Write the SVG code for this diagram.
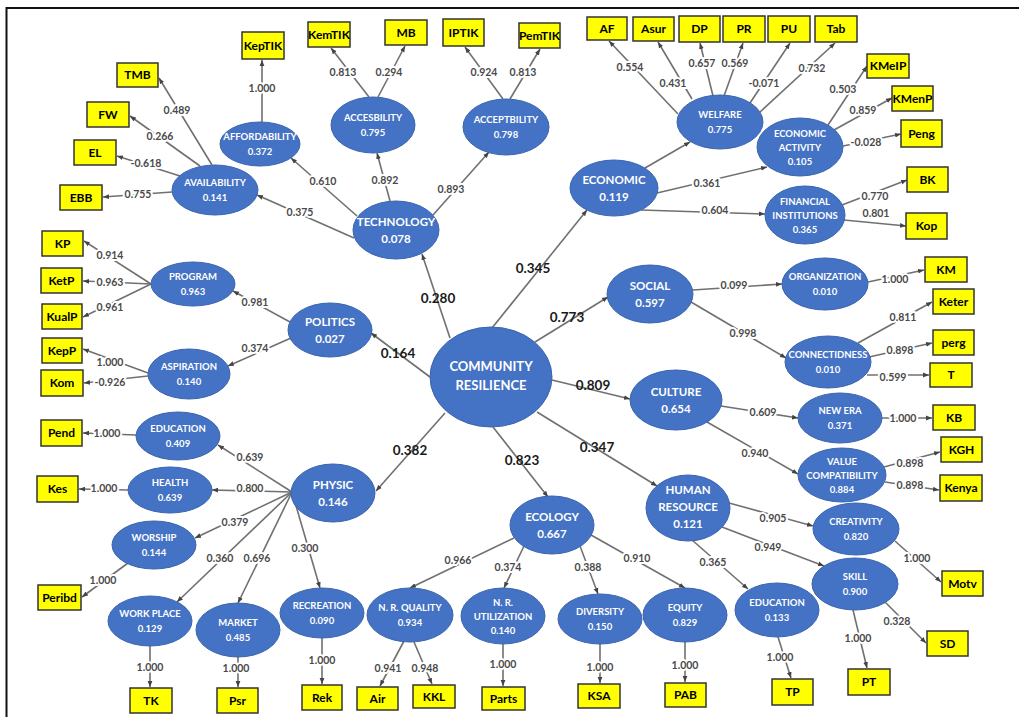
<svg xmlns="http://www.w3.org/2000/svg" width="1019" height="717" viewBox="0 0 1019 717">
<style>
text{font-family:Lato,"Liberation Sans","DejaVu Sans",sans-serif;font-weight:700;text-anchor:middle}
.e{fill:#4472c4;stroke:#3a64ad;stroke-width:1}
.nt{fill:#fff}
.s{font-size:9.5px}
.m{font-size:11.5px}
.x{font-size:13px}
.b{fill:#ffff00;stroke:#333;stroke-width:1.5}
.bt{font-size:12px;fill:#000}
.c line{stroke:#707070;stroke-width:1.6;marker-end:url(#ah)}
.l{font-size:10.5px;fill:#4a4a4a;stroke:#fff;stroke-width:4;paint-order:stroke;stroke-linejoin:round}
.L{font-size:13.5px;fill:#1a1a1a}
</style>
<defs>
<marker id="ah" viewBox="0 0 10 10" refX="10" refY="5" markerWidth="6" markerHeight="6" markerUnits="userSpaceOnUse" orient="auto"><path d="M0,1 L10,5 L0,9z" fill="#444"/></marker>
</defs>
<rect width="1019" height="717" fill="#fff"/>
<path d="M6.5,717 V8 H1019" fill="none" stroke="#111" stroke-width="2"/>
<g id="connectors" class="c">
<line x1="450" y1="338" x2="422" y2="254"/>
<line x1="492" y1="328" x2="587" y2="210"/>
<line x1="535" y1="342" x2="608" y2="297"/>
<line x1="552" y1="380" x2="630" y2="399"/>
<line x1="537" y1="412" x2="657" y2="486"/>
<line x1="493" y1="427" x2="548" y2="497"/>
<line x1="445" y1="413" x2="376" y2="491"/>
<line x1="430" y1="377" x2="371" y2="333"/>
<line x1="357" y1="216" x2="291" y2="158"/>
<line x1="354" y1="238" x2="257" y2="195"/>
<line x1="390" y1="201" x2="377" y2="153"/>
<line x1="433" y1="215" x2="489" y2="152"/>
<line x1="262" y1="122" x2="262" y2="60"/>
<line x1="212" y1="165" x2="159" y2="78"/>
<line x1="200" y1="166" x2="130" y2="116"/>
<line x1="180" y1="176" x2="117" y2="156"/>
<line x1="172" y1="192" x2="103" y2="197"/>
<line x1="369" y1="97" x2="331" y2="48"/>
<line x1="378" y1="97" x2="405" y2="46"/>
<line x1="503" y1="99" x2="465" y2="47"/>
<line x1="510" y1="99" x2="540" y2="49"/>
<line x1="645" y1="168" x2="690" y2="142"/>
<line x1="657" y1="193" x2="767" y2="167"/>
<line x1="641" y1="210" x2="765" y2="214"/>
<line x1="678" y1="114" x2="609" y2="41"/>
<line x1="692" y1="99" x2="658" y2="42"/>
<line x1="713" y1="96" x2="700" y2="43"/>
<line x1="724" y1="96" x2="743" y2="43"/>
<line x1="750" y1="103" x2="790" y2="43"/>
<line x1="760" y1="112" x2="835" y2="43"/>
<line x1="828" y1="125" x2="867" y2="66"/>
<line x1="834" y1="130" x2="892" y2="98"/>
<line x1="843" y1="146" x2="901" y2="134"/>
<line x1="842" y1="205" x2="907" y2="180"/>
<line x1="844" y1="220" x2="906" y2="226"/>
<line x1="693" y1="290" x2="782" y2="284"/>
<line x1="691" y1="302" x2="786" y2="358"/>
<line x1="868" y1="282" x2="924" y2="270"/>
<line x1="858" y1="343" x2="932" y2="302"/>
<line x1="869" y1="357" x2="932" y2="343"/>
<line x1="867" y1="375" x2="929" y2="375"/>
<line x1="721" y1="406" x2="798" y2="418"/>
<line x1="707" y1="422" x2="798" y2="474"/>
<line x1="882" y1="418" x2="932" y2="418"/>
<line x1="884" y1="467" x2="940" y2="452"/>
<line x1="885" y1="482" x2="939" y2="490"/>
<line x1="729" y1="503" x2="813" y2="526"/>
<line x1="722" y1="527" x2="824" y2="566"/>
<line x1="692" y1="540" x2="748" y2="589"/>
<line x1="895" y1="541" x2="941" y2="582"/>
<line x1="853" y1="610" x2="867" y2="668"/>
<line x1="885" y1="602" x2="926" y2="643"/>
<line x1="778" y1="637" x2="791" y2="678"/>
<line x1="685" y1="642" x2="685" y2="682"/>
<line x1="600" y1="644" x2="600" y2="683"/>
<line x1="503" y1="644" x2="503" y2="686"/>
<line x1="404" y1="641" x2="380" y2="686"/>
<line x1="414" y1="642" x2="432" y2="684"/>
<line x1="514" y1="538" x2="410" y2="588"/>
<line x1="524" y1="546" x2="504" y2="588"/>
<line x1="580" y1="546" x2="598" y2="594"/>
<line x1="591" y1="535" x2="685" y2="588"/>
<line x1="292" y1="492" x2="218" y2="445"/>
<line x1="292" y1="492" x2="212" y2="490"/>
<line x1="292" y1="492" x2="195" y2="538"/>
<line x1="292" y1="492" x2="177" y2="602"/>
<line x1="292" y1="492" x2="238" y2="603"/>
<line x1="292" y1="492" x2="320" y2="588"/>
<line x1="136" y1="435" x2="83" y2="433"/>
<line x1="128" y1="490" x2="79" y2="489"/>
<line x1="128" y1="563" x2="82" y2="597"/>
<line x1="150" y1="646" x2="150" y2="687"/>
<line x1="238" y1="657" x2="238" y2="687"/>
<line x1="322" y1="638" x2="322" y2="684"/>
<line x1="290" y1="322" x2="233" y2="291"/>
<line x1="291" y1="338" x2="228" y2="366"/>
<line x1="151" y1="284" x2="84" y2="241"/>
<line x1="151" y1="284" x2="83" y2="281"/>
<line x1="151" y1="284" x2="83" y2="317"/>
<line x1="148" y1="373" x2="83" y2="349"/>
<line x1="148" y1="376" x2="84" y2="383"/>
<text class="L" x="438" y="303">0.280</text>
<text class="L" x="533" y="273">0.345</text>
<text class="L" x="567" y="322">0.773</text>
<text class="L" x="593" y="390">0.809</text>
<text class="L" x="597" y="452">0.347</text>
<text class="L" x="522" y="465">0.823</text>
<text class="L" x="410" y="455">0.382</text>
<text class="L" x="398" y="358">0.164</text>
<text class="l" x="323" y="184.5">0.610</text>
<text class="l" x="300" y="215.5">0.375</text>
<text class="l" x="385" y="183.5">0.892</text>
<text class="l" x="451" y="192.5">0.893</text>
<text class="l" x="262" y="91.5">1.000</text>
<text class="l" x="177" y="113.5">0.489</text>
<text class="l" x="160" y="139.5">0.266</text>
<text class="l" x="146" y="166.5">-0.618</text>
<text class="l" x="138" y="197.5">0.755</text>
<text class="l" x="343" y="75.5">0.813</text>
<text class="l" x="389" y="75.5">0.294</text>
<text class="l" x="484" y="75.5">0.924</text>
<text class="l" x="523" y="75.5">0.813</text>
<text class="l" x="630" y="70.5">0.554</text>
<text class="l" x="673" y="86.5">0.431</text>
<text class="l" x="702" y="66.5">0.657</text>
<text class="l" x="735" y="66.5">0.569</text>
<text class="l" x="764" y="86.5">-0.071</text>
<text class="l" x="812" y="71.5">0.732</text>
<text class="l" x="707" y="186.5">0.361</text>
<text class="l" x="715" y="213.5">0.604</text>
<text class="l" x="843" y="92.5">0.503</text>
<text class="l" x="863" y="113.5">0.859</text>
<text class="l" x="866" y="145.5">-0.028</text>
<text class="l" x="875" y="199.5">0.770</text>
<text class="l" x="876" y="216.5">0.801</text>
<text class="l" x="734" y="288.5">0.099</text>
<text class="l" x="743" y="336.5">0.998</text>
<text class="l" x="895" y="282.5">1.000</text>
<text class="l" x="903" y="320.5">0.811</text>
<text class="l" x="900" y="353.5">0.898</text>
<text class="l" x="893" y="380.5">0.599</text>
<text class="l" x="763" y="415.5">0.609</text>
<text class="l" x="755" y="456.5">0.940</text>
<text class="l" x="903" y="421.5">1.000</text>
<text class="l" x="910" y="466.5">0.898</text>
<text class="l" x="910" y="488.5">0.898</text>
<text class="l" x="773" y="521.5">0.905</text>
<text class="l" x="768" y="550.5">0.949</text>
<text class="l" x="713" y="565.5">0.365</text>
<text class="l" x="917" y="561.5">1.000</text>
<text class="l" x="858" y="641.5">1.000</text>
<text class="l" x="897" y="624.5">0.328</text>
<text class="l" x="780" y="660.5">1.000</text>
<text class="l" x="685" y="668.5">1.000</text>
<text class="l" x="600" y="670.5">1.000</text>
<text class="l" x="503" y="667.5">1.000</text>
<text class="l" x="388" y="671.5">0.941</text>
<text class="l" x="425" y="671.5">0.948</text>
<text class="l" x="458" y="563.5">0.966</text>
<text class="l" x="508" y="570.5">0.374</text>
<text class="l" x="588" y="570.5">0.388</text>
<text class="l" x="637" y="561.5">0.910</text>
<text class="l" x="250" y="460.5">0.639</text>
<text class="l" x="250" y="491.5">0.800</text>
<text class="l" x="235" y="525.5">0.379</text>
<text class="l" x="220" y="561.5">0.360</text>
<text class="l" x="257" y="561.5">0.696</text>
<text class="l" x="305" y="551.5">0.300</text>
<text class="l" x="107" y="436.5">1.000</text>
<text class="l" x="104" y="491.5">1.000</text>
<text class="l" x="103" y="583.5">1.000</text>
<text class="l" x="150" y="670.5">1.000</text>
<text class="l" x="236" y="671.5">1.000</text>
<text class="l" x="322" y="663.5">1.000</text>
<text class="l" x="255" y="305.5">0.981</text>
<text class="l" x="255" y="351.5">0.374</text>
<text class="l" x="110" y="258.5">0.914</text>
<text class="l" x="110" y="285.5">0.963</text>
<text class="l" x="110" y="310.5">0.961</text>
<text class="l" x="110" y="365.5">1.000</text>
<text class="l" x="110" y="385.5">-0.926</text>
</g>
<g id="n-cr"><ellipse class="e" cx="491" cy="377" rx="61" ry="50"/><text class="nt x" x="491" y="370.5">COMMUNITY</text><text class="nt x" x="491" y="389.5">RESILIENCE</text></g>
<g id="n-technology"><ellipse class="e" cx="396" cy="230" rx="43" ry="29"/><text class="nt m" x="396" y="226">TECHNOLOGY</text><text class="nt m" x="396" y="243">0.078</text></g>
<g id="n-politics"><ellipse class="e" cx="330" cy="330" rx="42" ry="27"/><text class="nt m" x="330" y="326">POLITICS</text><text class="nt m" x="330" y="343">0.027</text></g>
<g id="n-physic"><ellipse class="e" cx="333" cy="493" rx="42" ry="29"/><text class="nt m" x="333" y="489">PHYSIC</text><text class="nt m" x="333" y="506">0.146</text></g>
<g id="n-ecology"><ellipse class="e" cx="552" cy="525" rx="42" ry="29"/><text class="nt m" x="552" y="521">ECOLOGY</text><text class="nt m" x="552" y="538">0.667</text></g>
<g id="n-hr"><ellipse class="e" cx="688" cy="508" rx="42" ry="33"/><text class="nt m" x="688" y="494">HUMAN</text><text class="nt m" x="688" y="511">RESOURCE</text><text class="nt m" x="688" y="528">0.121</text></g>
<g id="n-culture"><ellipse class="e" cx="676" cy="400" rx="46" ry="30"/><text class="nt m" x="676" y="396">CULTURE</text><text class="nt m" x="676" y="413">0.654</text></g>
<g id="n-social"><ellipse class="e" cx="650" cy="294" rx="43" ry="29"/><text class="nt m" x="650" y="290">SOCIAL</text><text class="nt m" x="650" y="307">0.597</text></g>
<g id="n-economic"><ellipse class="e" cx="614" cy="188" rx="44" ry="28"/><text class="nt m" x="614" y="184">ECONOMIC</text><text class="nt m" x="614" y="201">0.119</text></g>
<g id="n-affordability"><ellipse class="e" cx="260" cy="144" rx="40" ry="22"/><text class="nt s" x="260" y="140">AFFORDABILITY</text><text class="nt s" x="260" y="155">0.372</text></g>
<g id="n-availability"><ellipse class="e" cx="215" cy="190" rx="43" ry="25"/><text class="nt s" x="215" y="186">AVAILABILITY</text><text class="nt s" x="215" y="201">0.141</text></g>
<g id="n-accesbility"><ellipse class="e" cx="373" cy="125" rx="42" ry="28"/><text class="nt s" x="373" y="121">ACCESBILITY</text><text class="nt s" x="373" y="136">0.795</text></g>
<g id="n-acceptbility"><ellipse class="e" cx="506" cy="127" rx="43" ry="28"/><text class="nt s" x="506" y="123">ACCEPTBILITY</text><text class="nt s" x="506" y="138">0.798</text></g>
<g id="n-welfare"><ellipse class="e" cx="720" cy="122" rx="43" ry="27"/><text class="nt s" x="720" y="118">WELFARE</text><text class="nt s" x="720" y="133">0.775</text></g>
<g id="n-ecoact"><ellipse class="e" cx="800" cy="147" rx="43" ry="29"/><text class="nt s" x="800" y="136.5">ECONOMIC</text><text class="nt s" x="800" y="150.5">ACTIVITY</text><text class="nt s" x="800" y="164.5">0.105</text></g>
<g id="n-fininst"><ellipse class="e" cx="805" cy="215" rx="40" ry="29"/><text class="nt s" x="805" y="204.5">FINANCIAL</text><text class="nt s" x="805" y="218.5">INSTITUTIONS</text><text class="nt s" x="805" y="232.5">0.365</text></g>
<g id="n-program"><ellipse class="e" cx="193" cy="284" rx="42" ry="22"/><text class="nt s" x="193" y="280">PROGRAM</text><text class="nt s" x="193" y="295">0.963</text></g>
<g id="n-aspiration"><ellipse class="e" cx="189" cy="374" rx="41" ry="25"/><text class="nt s" x="189" y="370">ASPIRATION</text><text class="nt s" x="189" y="385">0.140</text></g>
<g id="n-education1"><ellipse class="e" cx="178" cy="436" rx="42" ry="24"/><text class="nt s" x="178" y="432">EDUCATION</text><text class="nt s" x="178" y="447">0.409</text></g>
<g id="n-health"><ellipse class="e" cx="170" cy="490" rx="42" ry="23"/><text class="nt s" x="170" y="486">HEALTH</text><text class="nt s" x="170" y="501">0.639</text></g>
<g id="n-worship"><ellipse class="e" cx="154" cy="545" rx="42" ry="24"/><text class="nt s" x="154" y="541">WORSHIP</text><text class="nt s" x="154" y="556">0.144</text></g>
<g id="n-workplace"><ellipse class="e" cx="150" cy="621" rx="42" ry="25"/><text class="nt s" x="150" y="617">WORK PLACE</text><text class="nt s" x="150" y="632">0.129</text></g>
<g id="n-market"><ellipse class="e" cx="238" cy="630" rx="42" ry="27"/><text class="nt s" x="238" y="626">MARKET</text><text class="nt s" x="238" y="641">0.485</text></g>
<g id="n-recreation"><ellipse class="e" cx="322" cy="613" rx="42" ry="25"/><text class="nt s" x="322" y="609">RECREATION</text><text class="nt s" x="322" y="624">0.090</text></g>
<g id="n-nrquality"><ellipse class="e" cx="410" cy="615" rx="43" ry="27"/><text class="nt s" x="410" y="611">N. R. QUALITY</text><text class="nt s" x="410" y="626">0.934</text></g>
<g id="n-nrutil"><ellipse class="e" cx="503" cy="616" rx="42" ry="28"/><text class="nt s" x="503" y="605.5">N. R.</text><text class="nt s" x="503" y="619.5">UTILIZATION</text><text class="nt s" x="503" y="633.5">0.140</text></g>
<g id="n-diversity"><ellipse class="e" cx="600" cy="619" rx="42" ry="25"/><text class="nt s" x="600" y="615">DIVERSITY</text><text class="nt s" x="600" y="630">0.150</text></g>
<g id="n-equity"><ellipse class="e" cx="685" cy="615" rx="42" ry="27"/><text class="nt s" x="685" y="611">EQUITY</text><text class="nt s" x="685" y="626">0.829</text></g>
<g id="n-education2"><ellipse class="e" cx="777" cy="610" rx="42" ry="27"/><text class="nt s" x="777" y="606">EDUCATION</text><text class="nt s" x="777" y="621">0.133</text></g>
<g id="n-skill"><ellipse class="e" cx="855" cy="584" rx="43" ry="26"/><text class="nt s" x="855" y="580">SKILL</text><text class="nt s" x="855" y="595">0.900</text></g>
<g id="n-creativity"><ellipse class="e" cx="856" cy="529" rx="43" ry="26"/><text class="nt s" x="856" y="525">CREATIVITY</text><text class="nt s" x="856" y="540">0.820</text></g>
<g id="n-valuecomp"><ellipse class="e" cx="842" cy="475" rx="44" ry="27"/><text class="nt s" x="842" y="464.5">VALUE</text><text class="nt s" x="842" y="478.5">COMPATIBILITY</text><text class="nt s" x="842" y="492.5">0.884</text></g>
<g id="n-newera"><ellipse class="e" cx="840" cy="418" rx="42" ry="25"/><text class="nt s" x="840" y="414">NEW ERA</text><text class="nt s" x="840" y="429">0.371</text></g>
<g id="n-connectidness"><ellipse class="e" cx="828" cy="362" rx="43" ry="26"/><text class="nt s" x="828" y="358">CONNECTIDNESS</text><text class="nt s" x="828" y="373">0.010</text></g>
<g id="n-organization"><ellipse class="e" cx="825" cy="284" rx="43" ry="26"/><text class="nt s" x="825" y="280">ORGANIZATION</text><text class="nt s" x="825" y="295">0.010</text></g>
<g id="b-keptik"><rect class="b" x="242" y="32" width="42" height="27"/><text class="bt" x="263" y="49.5">KepTIK</text></g>
<g id="b-kemtik"><rect class="b" x="308" y="22" width="42" height="25"/><text class="bt" x="329" y="38.5">KemTIK</text></g>
<g id="b-mb"><rect class="b" x="385" y="20" width="42" height="25"/><text class="bt" x="406" y="36.5">MB</text></g>
<g id="b-iptik"><rect class="b" x="443" y="19" width="41" height="27"/><text class="bt" x="463.5" y="36.5">IPTIK</text></g>
<g id="b-pemtik"><rect class="b" x="519" y="23" width="41" height="25"/><text class="bt" x="539.5" y="39.5">PemTIK</text></g>
<g id="b-af"><rect class="b" x="587" y="17" width="40" height="23"/><text class="bt" x="607" y="32.5">AF</text></g>
<g id="b-asur"><rect class="b" x="633" y="17" width="41" height="24"/><text class="bt" x="653.5" y="33">Asur</text></g>
<g id="b-dp"><rect class="b" x="679" y="16" width="41" height="26"/><text class="bt" x="699.5" y="33">DP</text></g>
<g id="b-pr"><rect class="b" x="723" y="16" width="42" height="26"/><text class="bt" x="744" y="33">PR</text></g>
<g id="b-pu"><rect class="b" x="768" y="16" width="42" height="26"/><text class="bt" x="789" y="33">PU</text></g>
<g id="b-tab"><rect class="b" x="815" y="16" width="42" height="26"/><text class="bt" x="836" y="33">Tab</text></g>
<g id="b-kmeip"><rect class="b" x="867" y="54" width="42" height="24"/><text class="bt" x="888" y="70">KMeIP</text></g>
<g id="b-kmenp"><rect class="b" x="892" y="86" width="41" height="25"/><text class="bt" x="912.5" y="102.5">KMenP</text></g>
<g id="b-peng"><rect class="b" x="901" y="120" width="41" height="27"/><text class="bt" x="921.5" y="137.5">Peng</text></g>
<g id="b-bk"><rect class="b" x="907" y="167" width="41" height="25"/><text class="bt" x="927.5" y="183.5">BK</text></g>
<g id="b-kop"><rect class="b" x="906" y="213" width="41" height="26"/><text class="bt" x="926.5" y="230">Kop</text></g>
<g id="b-tmb"><rect class="b" x="117" y="63" width="41" height="24"/><text class="bt" x="137.5" y="79">TMB</text></g>
<g id="b-fw"><rect class="b" x="87" y="102" width="42" height="25"/><text class="bt" x="108" y="118.5">FW</text></g>
<g id="b-el"><rect class="b" x="74" y="140" width="42" height="25"/><text class="bt" x="95" y="156.5">EL</text></g>
<g id="b-ebb"><rect class="b" x="60" y="185" width="42" height="25"/><text class="bt" x="81" y="201.5">EBB</text></g>
<g id="b-kp"><rect class="b" x="42" y="231" width="41" height="25"/><text class="bt" x="62.5" y="247.5">KP</text></g>
<g id="b-ketp"><rect class="b" x="41" y="268" width="41" height="25"/><text class="bt" x="61.5" y="284.5">KetP</text></g>
<g id="b-kualp"><rect class="b" x="42" y="304" width="40" height="25"/><text class="bt" x="62" y="320.5">KualP</text></g>
<g id="b-kepp"><rect class="b" x="42" y="338" width="40" height="25"/><text class="bt" x="62" y="354.5">KepP</text></g>
<g id="b-kom"><rect class="b" x="41" y="370" width="42" height="26"/><text class="bt" x="62" y="387">Kom</text></g>
<g id="b-pend"><rect class="b" x="41" y="420" width="41" height="26"/><text class="bt" x="61.5" y="437">Pend</text></g>
<g id="b-kes"><rect class="b" x="37" y="476" width="41" height="26"/><text class="bt" x="57.5" y="493">Kes</text></g>
<g id="b-peribd"><rect class="b" x="38" y="585" width="43" height="25"/><text class="bt" x="59.5" y="601.5">Peribd</text></g>
<g id="b-tk"><rect class="b" x="130" y="688" width="42" height="25"/><text class="bt" x="151" y="704.5">TK</text></g>
<g id="b-psr"><rect class="b" x="217" y="688" width="41" height="25"/><text class="bt" x="237.5" y="704.5">Psr</text></g>
<g id="b-rek"><rect class="b" x="302" y="685" width="40" height="25"/><text class="bt" x="322" y="701.5">Rek</text></g>
<g id="b-air"><rect class="b" x="357" y="687" width="41" height="23"/><text class="bt" x="377.5" y="702.5">Air</text></g>
<g id="b-kkl"><rect class="b" x="413" y="685" width="42" height="23"/><text class="bt" x="434" y="700.5">KKL</text></g>
<g id="b-parts"><rect class="b" x="482" y="687" width="43" height="23"/><text class="bt" x="503.5" y="702.5">Parts</text></g>
<g id="b-ksa"><rect class="b" x="578" y="684" width="42" height="24"/><text class="bt" x="599" y="700">KSA</text></g>
<g id="b-pab"><rect class="b" x="665" y="683" width="41" height="24"/><text class="bt" x="685.5" y="699">PAB</text></g>
<g id="b-tp"><rect class="b" x="772" y="679" width="41" height="26"/><text class="bt" x="792.5" y="696">TP</text></g>
<g id="b-pt"><rect class="b" x="848" y="669" width="42" height="26"/><text class="bt" x="869" y="686">PT</text></g>
<g id="b-sd"><rect class="b" x="927" y="631" width="41" height="25"/><text class="bt" x="947.5" y="647.5">SD</text></g>
<g id="b-motv"><rect class="b" x="942" y="571" width="41" height="25"/><text class="bt" x="962.5" y="587.5">Motv</text></g>
<g id="b-kenya"><rect class="b" x="940" y="475" width="42" height="26"/><text class="bt" x="961" y="492">Kenya</text></g>
<g id="b-kgh"><rect class="b" x="941" y="437" width="41" height="25"/><text class="bt" x="961.5" y="453.5">KGH</text></g>
<g id="b-kb"><rect class="b" x="933" y="405" width="42" height="25"/><text class="bt" x="954" y="421.5">KB</text></g>
<g id="b-t"><rect class="b" x="930" y="363" width="42" height="24"/><text class="bt" x="951" y="379">T</text></g>
<g id="b-perg"><rect class="b" x="933" y="330" width="41" height="25"/><text class="bt" x="953.5" y="346.5">perg</text></g>
<g id="b-keter"><rect class="b" x="933" y="289" width="41" height="25"/><text class="bt" x="953.5" y="305.5">Keter</text></g>
<g id="b-km"><rect class="b" x="925" y="257" width="42" height="25"/><text class="bt" x="946" y="273.5">KM</text></g>
</svg>
